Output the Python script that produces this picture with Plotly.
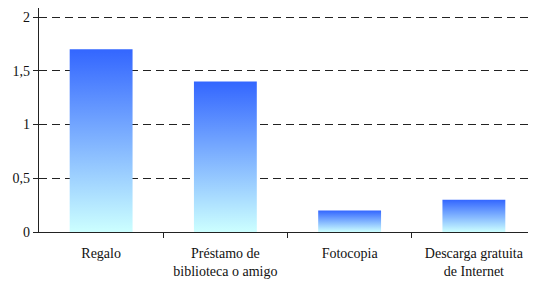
import plotly.graph_objects as go

categories = ["Regalo", "Préstamo de<br>biblioteca o amigo", "Fotocopia", "Descarga gratuita<br>de Internet"]
values = [1.7, 1.4, 0.2, 0.3]
y_ticks = [0, 0.5, 1, 1.5, 2]
y_tick_labels = ["0", "0,5", "1", "1,5", "2"]

bar_w = 0.506
fig = go.Figure()
for i, v in enumerate(values):
    x0, x1 = i - bar_w / 2, i + bar_w / 2
    fig.add_trace(go.Scatter(
        x=[x0, x1, x1, x0, x0], y=[0, 0, v, v, 0],
        mode="lines", fill="toself", line=dict(width=0),
        fillgradient=dict(type="vertical", colorscale=[[0, "#ccffff"], [1, "#3366ff"]]),
        hoverinfo="skip", showlegend=False,
    ))

# invisible trace on secondary axis to draw boundary ticks
fig.add_trace(go.Scatter(x=[0], y=[0], xaxis="x2", mode="markers",
                         marker=dict(opacity=0), showlegend=False, hoverinfo="skip"))

font = dict(family="Liberation Serif", size=14, color="#111")
# page body has an 8px default margin, so the figure is sized to fit the window
fig.update_layout(
    width=528, height=277,
    margin=dict(l=31, r=0, t=0, b=53),
    paper_bgcolor="white", plot_bgcolor="white",
    font=font,
    xaxis=dict(range=[-0.5, 3.5], tickvals=list(range(len(categories))), ticktext=categories,
               ticks="", showgrid=False, zeroline=False, showline=True, automargin=False,
               linecolor="#222", linewidth=1.3, fixedrange=True, ticklabelstandoff=8,
               tickfont=font),
    xaxis2=dict(range=[-0.5, 3.5], overlaying="x", side="bottom", anchor="y",
                tickvals=[0.5, 1.5, 2.5], showticklabels=False, ticks="outside",
                ticklen=5, tickcolor="#222", showgrid=False, zeroline=False, showline=False),
    yaxis=dict(range=[0, 2.084], tickvals=y_ticks, ticktext=y_tick_labels, automargin=False,
               ticks="outside", ticklen=5, tickcolor="#222", tickfont=font,
               showgrid=True, gridcolor="#222", griddash="8px,5px", gridwidth=1,
               zeroline=False, showline=True, linecolor="#222", linewidth=1.3),
)
fig.write_html("out.html")
